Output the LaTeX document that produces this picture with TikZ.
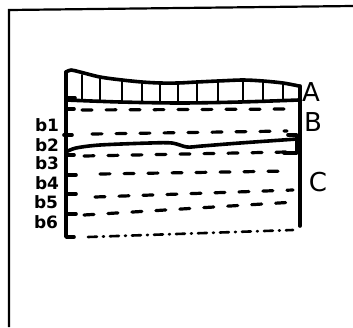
\documentclass[tikz,border=0pt]{standalone}
\usepackage{fontspec}
\setmainfont{DejaVu Sans}
\begin{document}
\begin{tikzpicture}[x=1pt,y=-1pt,
 ink/.style={line width=3.6pt,line cap=round,line join=round},
 hatch/.style={line width=2.4pt,line cap=round},
 dsh/.style={line width=3.2pt,line cap=round,dash pattern=on 10pt off 14pt},
 dshdot/.style={line width=2.6pt,line cap=round,dash pattern=on 9pt off 6pt on 1pt off 6pt},
 framestyle/.style={line width=2.2pt},
 blab/.style={font=\bfseries\fontsize{17}{17}\selectfont,inner sep=0pt},
 biglab/.style={font=\fontsize{26}{26}\selectfont,inner sep=0pt}]
\useasboundingbox (0,0) rectangle (353,327);
\fill[white] (0,0) rectangle (353,327);
% frame
\draw[framestyle] (9,327) -- (9,10) -- (353,6);
% left and right walls
\draw[ink] (66,72) -- (66,237) -- (74,237);
\draw[ink] (300,86) -- (300,226);
% A top profile
\draw[ink] plot[smooth] coordinates {(66,72)(71,70)(80,72)(100,77)(122,80)(142,82)(160,83)(178,83)(197,82)(218,81)(243,80)(263,81)(283,83)(299,86)};
% A bottom line
\draw[ink] plot[smooth] coordinates {(66,100)(120,102)(180,103)(240,102)(299,100)};
\draw[ink] (66,98) -- (75,98);
% hatches
\foreach \x/\t/\b in {82/75/101,100/77/101,122/80/102,142/82/102,160/83/103,178/83/103,197/82/103,218/81/102,243/80/102,263/81/101,283/83/101}
  \draw[hatch] (\x,\t) -- (\x,\b);
% B layer dashes
\draw[ink] (66,109) -- (74,109);
\draw[dsh] (82,110) -- (293,109);
\draw[dsh] (92,134) -- (287,131);
% b2 brackets
\draw[ink] (66,135) -- (66,150);
\draw[ink] (64,135) -- (72,135);
\draw[ink] (288,135) -- (297,135) -- (297,153) -- (284,153);
% C top boundary
\draw[ink] plot[smooth] coordinates {(66,152)(76,148)(100,145)(150,143)(172,143)(187,147)(202,146)(240,143)(297,139)};
% C dashes
\draw[ink] (66,155) -- (74,155);
\draw[dsh] (84,156) -- (287,152);
\draw[ink] (66,175) -- (76,175);
\draw[dsh] (100,174) -- (290,171);
\draw[ink] (66,194) -- (76,194);
\draw[dsh] (95,197) -- (293,190);
\draw[ink] (66,214) -- (76,214);
\draw[dsh] (84,215) -- (295,202);
\draw[dshdot] (88,237) -- (293,230);
% labels
\node[blab] (b1) at (47,125) {b1};
\node[blab] (b2) at (47,145) {b2};
\node[blab] (b3) at (47,163) {b3};
\node[blab] (b4) at (47,183) {b4};
\node[blab] (b5) at (46,202) {b5};
\node[blab] (b6) at (46,222) {b6};
\node[biglab] (A) at (311,92) {A};
\node[biglab] (B) at (313,122) {B};
\node[biglab] (C) at (318,182) {C};
\end{tikzpicture}
\end{document}
